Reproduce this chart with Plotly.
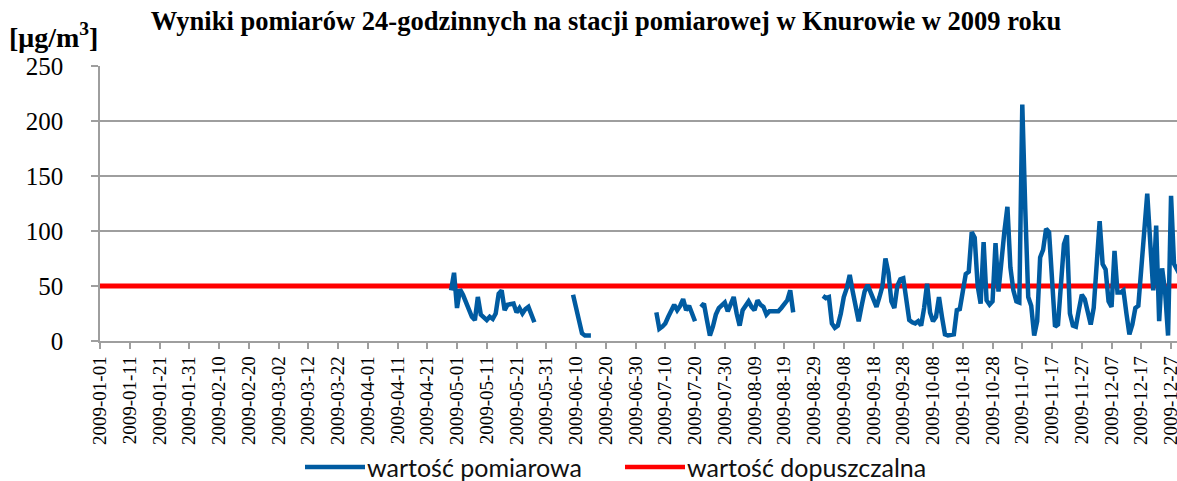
import pandas as pd
import plotly.graph_objects as go

# ---------------- data ----------------
tytul = "Wyniki pomiarów 24-godzinnych na stacji pomiarowej w Knurowie w 2009 roku"
jednostka = "[μg/m<sup>3</sup>]"
nazwa_pomiar = "wartość pomiarowa"
nazwa_norma = "wartość dopuszczalna"
dopuszczalna = 50

rok_start = "2009-01-01"
rok_koniec = "2009-12-31"

# measured segments (daily values), each with its first date
seg_a_start = "2009-04-29"
seg_a = [46, 62, 30, 47, 42, 35, 27, 22, 19, 40, 24, 21, 19, 22, 20, 25, 43, 46, 28, 33,
         33, 34, 26, 30, 25, 29, 31, 24, 17]
seg_b_start = "2009-06-09"
seg_b = [42, 30, 18, 7, 5, 5, 5]
seg_c_start = "2009-07-07"
seg_c = [26, 11, 13, 16, 22, 27, 33, 28, 32, 38, 28, 32, 24, 18]
seg_d_start = "2009-07-22"
seg_d = [31, 34, 19, 5, 13, 24, 30, 33, 35, 27, 34, 40, 25, 14, 28, 33, 36, 31, 28, 37,
         33, 31, 24, 27, 27, 28, 27, 30, 33, 37, 46, 26]
seg_e_start = "2009-09-01"
seg_e = [41, 39, 40, 16, 12, 14, 25, 40, 48, 60, 45, 30, 18, 32, 45, 51, 44, 38, 31, 40,
         50, 75, 62, 36, 30, 50, 56, 57, 36, 19, 17, 16, 18, 14, 30, 52, 26, 18, 22, 40,
         22, 6, 5, 5, 6, 28, 29, 45, 61, 63, 99, 94, 50, 34, 90, 37, 33, 36, 89, 45,
         75, 100, 122, 67, 46, 36, 35, 215, 120, 40, 32, 5, 18, 76, 83, 102, 99, 60, 13, 15,
         50, 88, 96, 25, 14, 13, 28, 42, 38, 28, 15, 30, 70, 109, 70, 65, 36, 31, 82, 44,
         44, 46, 25, 6, 15, 30, 32, 65, 100, 134, 90, 46, 105, 18, 66, 45, 5, 132, 70, 65,
         60, 55]

tick_labels = ["2009-01-01", "2009-01-11", "2009-01-21", "2009-01-31", "2009-02-10",
               "2009-02-20", "2009-03-02", "2009-03-12", "2009-03-22", "2009-04-01",
               "2009-04-11", "2009-04-21", "2009-05-01", "2009-05-11", "2009-05-21",
               "2009-05-31", "2009-06-10", "2009-06-20", "2009-06-30", "2009-07-10",
               "2009-07-20", "2009-07-30", "2009-08-09", "2009-08-19", "2009-08-29",
               "2009-09-08", "2009-09-18", "2009-09-28", "2009-10-08", "2009-10-18",
               "2009-10-28", "2009-11-07", "2009-11-17", "2009-11-27", "2009-12-07",
               "2009-12-17", "2009-12-27"]
y_ticks = [0, 50, 100, 150, 200, 250]

# ---------------- build series ----------------
dni = pd.date_range(rok_start, rok_koniec, freq="D")
seria = pd.Series([None] * len(dni), index=dni, dtype="object")
for start, vals in [(seg_a_start, seg_a), (seg_b_start, seg_b), (seg_c_start, seg_c),
                    (seg_d_start, seg_d), (seg_e_start, seg_e)]:
    idx = pd.date_range(start, periods=len(vals), freq="D")
    seria.loc[idx] = vals

BLUE = "#005BA1"
RED = "#FF0000"
GRID = "#9E9E9E"
SERIF = "Liberation Serif"

fig = go.Figure()
fig.add_trace(go.Scatter(x=dni, y=[dopuszczalna] * len(dni), mode="lines", name=nazwa_norma,
                         line=dict(color=RED, width=5), showlegend=False))
fig.add_trace(go.Scatter(x=dni, y=list(seria.values), mode="lines", name=nazwa_pomiar,
                         line=dict(color=BLUE, width=4.5), connectgaps=False, showlegend=False))

W, H = 1177, 481
L, R, T, B = 100, 0, 66, 140
plot_w = W - L - R
plot_h = H - T - B

def px_x(px):
    return (px - L) / plot_w

def px_y(py):
    return (H - B - py) / plot_h

# manual legend
shapes = []
annotations = []
for x0, x1, col, txt in [(305, 365, BLUE, nazwa_pomiar), (625, 685, RED, nazwa_norma)]:
    shapes.append(dict(type="line", xref="paper", yref="paper",
                       x0=px_x(x0), x1=px_x(x1), y0=px_y(467), y1=px_y(467),
                       line=dict(color=col, width=4.5)))
    annotations.append(dict(text=txt, xref="paper", yref="paper", x=px_x(x1), y=px_y(467),
                            xanchor="left", yanchor="middle", showarrow=False,
                            font=dict(family="Lato", size=25, color="#111")))

annotations.append(dict(text=jednostka, xref="paper", yref="paper", x=px_x(7), y=px_y(36),
                        xanchor="left", yanchor="middle", showarrow=False,
                        font=dict(family=SERIF, size=28, color="black", weight="bold")))

fig.update_layout(
    width=W, height=H,
    margin=dict(l=L, r=R, t=T, b=B, autoexpand=False),
    paper_bgcolor="white", plot_bgcolor="white",
    title=dict(text=tytul, x=606 / W, xref="container", xanchor="center",
               y=1 - 21 / H, yref="container", yanchor="middle",
               font=dict(family=SERIF, size=26.5, color="black", weight="bold")),
    shapes=shapes,
    annotations=annotations,
    showlegend=False,
    xaxis=dict(type="date", range=["2009-01-01", "2009-12-29"], automargin=False,
               tickmode="array", tickvals=tick_labels, ticktext=tick_labels,
               tickangle=-90, ticks="outside", ticklen=6, tickcolor=GRID, tickwidth=1.5,
               showgrid=False, showline=True, linecolor=GRID, linewidth=1.5,
               tickfont=dict(family=SERIF, size=19, color="black"),
               ticklabeloverflow="allow", zeroline=False),
    yaxis=dict(range=[0, 250], tickmode="array", tickvals=y_ticks, automargin=False,
               ticks="outside", ticklen=7, tickcolor=GRID, tickwidth=1.5,
               showgrid=True, gridcolor=GRID, gridwidth=1.5,
               showline=True, linecolor=GRID, linewidth=1.5,
               tickfont=dict(family=SERIF, size=25, color="black"),
               ticklabelstandoff=23, zeroline=False),
)

fig.write_html("out.html",
               config={"displayModeBar": False},
               post_script="document.body.style.margin='0px';"
                           "document.body.style.overflow='hidden';")
